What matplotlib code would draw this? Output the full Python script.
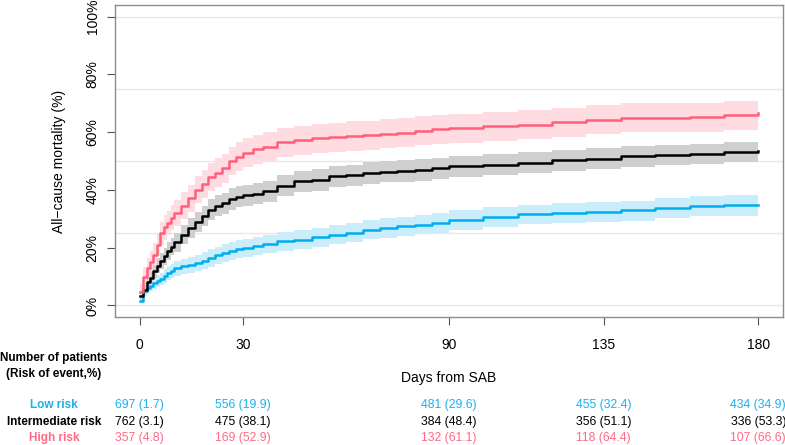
import numpy as np
import matplotlib
matplotlib.use("Agg")
import matplotlib.pyplot as plt
import matplotlib.transforms as mtransforms

plt.rcParams['font.family'] = ['Liberation Sans', 'DejaVu Sans']

# time grid (days) and cumulative mortality (%)
days = [0, 1, 2, 3, 4, 5, 6, 7, 8, 9, 10, 12, 14, 16, 18, 20, 22, 24, 26, 28, 30,
        33, 36, 40, 45, 50, 55, 60, 65, 70, 75, 80, 85, 90,
        100, 110, 120, 130, 140, 150, 160, 170, 180]

low = [1.7, 4.9, 6.0, 6.9, 7.8, 8.5, 9.2, 10.2, 11.3, 12.0, 12.8, 13.6, 14.0, 14.7, 15.5,
       16.4, 17.3, 18.2, 19.0, 19.5, 19.9, 20.6, 21.2, 22.2, 22.8, 23.6, 24.5, 25.1, 26.2,
       26.8, 27.4, 27.9, 28.6, 29.6, 30.6, 31.5, 32.0, 32.4, 32.9, 33.7, 34.3, 34.6, 34.9]
low_lo = [0.7, 3.3, 4.2, 4.9, 5.8, 6.4, 7.0, 7.9, 8.9, 9.6, 10.3, 11.0, 11.3, 11.9, 12.6,
          13.4, 14.3, 15.1, 15.9, 16.3, 16.7, 17.4, 18.0, 19.0, 19.5, 20.3, 21.2, 21.8, 22.9,
          23.5, 24.1, 24.6, 25.2, 26.2, 27.2, 28.1, 28.6, 29.0, 29.4, 30.2, 30.8, 31.1, 31.4]
low_hi = [2.7, 6.5, 7.8, 8.9, 9.8, 10.6, 11.4, 12.5, 13.7, 14.4, 15.3, 16.2, 16.7, 17.5, 18.4,
          19.4, 20.3, 21.3, 22.1, 22.7, 23.1, 23.8, 24.4, 25.4, 26.1, 26.9, 27.8, 28.4, 29.5,
          30.1, 30.7, 31.2, 31.9, 33.0, 34.0, 34.9, 35.4, 35.8, 36.3, 37.1, 37.8, 38.1, 38.4]

mid = [3.1, 5.5, 8.0, 9.5, 11.8, 13.8, 15.5, 17.0, 18.8, 20.4, 21.8, 24.5, 26.8, 29.0, 31.0,
       33.2, 34.5, 35.3, 36.8, 37.7, 38.1, 38.7, 39.5, 41.5, 43.0, 43.4, 44.7, 45.0, 45.8,
       46.3, 46.5, 46.9, 47.5, 48.2, 48.7, 49.4, 50.2, 50.8, 51.6, 52.1, 52.4, 53.0, 53.3]
mid_lo = [1.8, 3.8, 6.0, 7.3, 9.4, 11.2, 12.7, 14.1, 15.8, 17.3, 18.6, 21.2, 23.4, 25.5, 27.5,
          29.6, 30.9, 31.7, 33.1, 34.0, 34.4, 35.0, 35.8, 37.8, 39.3, 39.7, 41.0, 41.3, 42.1,
          42.6, 42.8, 43.2, 43.8, 44.5, 45.0, 45.8, 46.6, 47.2, 48.0, 48.6, 48.9, 49.5, 49.9]
mid_hi = [4.4, 7.2, 10.0, 11.7, 14.2, 16.4, 18.3, 19.9, 21.8, 23.5, 25.0, 27.8, 30.2, 32.5, 34.5,
          36.8, 38.1, 38.9, 40.5, 41.4, 41.8, 42.4, 43.2, 45.2, 46.7, 47.1, 48.4, 48.7, 49.5,
          50.0, 50.2, 50.6, 51.2, 51.9, 52.4, 53.0, 53.8, 54.4, 55.2, 55.6, 55.9, 56.5, 56.7]

high = [4.8, 10.0, 13.0, 15.0, 17.6, 21.0, 25.0, 27.0, 28.5, 30.3, 32.0, 34.5, 37.1, 40.0, 42.0,
        44.5, 46.0, 47.5, 50.0, 51.5, 52.9, 54.0, 55.0, 56.5, 57.2, 57.8, 58.3, 58.7, 59.0,
        59.5, 59.8, 60.5, 61.0, 61.3, 62.0, 62.6, 63.5, 64.3, 65.0, 65.0, 65.2, 65.9, 66.6]
high_lo = [2.5, 7.0, 9.8, 11.7, 14.0, 17.2, 21.0, 22.8, 24.3, 26.0, 27.5, 30.0, 32.5, 35.3, 37.2,
           39.6, 41.0, 42.5, 45.0, 46.5, 47.8, 48.9, 49.9, 51.4, 52.1, 52.7, 53.2, 53.6, 53.9,
           54.4, 54.7, 55.4, 55.9, 56.2, 56.9, 57.5, 58.4, 59.2, 59.9, 59.9, 60.1, 60.8, 61.5]
high_hi = [7.5, 13.3, 16.5, 18.7, 21.5, 25.0, 29.0, 31.3, 32.8, 34.7, 36.5, 39.1, 41.8, 44.8, 46.8,
           49.4, 51.0, 52.5, 55.0, 56.5, 57.9, 59.0, 60.0, 61.5, 62.2, 62.8, 63.3, 63.7, 64.0,
           64.5, 64.8, 65.5, 66.0, 66.3, 67.0, 67.6, 68.5, 69.3, 70.0, 70.0, 70.2, 70.8, 71.4]

# risk table
table_days = [0, 30, 90, 135, 180]
group_names = ["Low risk", "Intermediate risk", "High risk"]
n_low = [697, 556, 481, 455, 434]
pct_low = [1.7, 19.9, 29.6, 32.4, 34.9]
n_mid = [762, 475, 384, 356, 336]
pct_mid = [3.1, 38.1, 48.4, 51.1, 53.3]
n_high = [357, 169, 132, 118, 107]
pct_high = [4.8, 52.9, 61.1, 64.4, 66.6]

line_cols = ["#00AEEF", "black", "#FF5F7A"]
band_cols = ["#C9EDFB", "#CFCFCF", "#FFDCE2"]
text_cols = ["#1BB0EE", "black", "#FF6B86"]

fig = plt.figure(figsize=(7.85, 4.45), dpi=100)
ax = fig.add_axes([115 / 785, 1 - 317 / 445, 668 / 785, 312 / 445])

for g in [25, 50, 75, 100, 0]:
    ax.axhline(g, color="#E8E8E8", lw=1, zorder=0)

series = [(low, low_lo, low_hi), (mid, mid_lo, mid_hi), (high, high_lo, high_hi)]
for (v, lo, hi), lc, bc in zip(series, line_cols, band_cols):
    ax.fill_between(days, lo, hi, step="post", color=bc, lw=0, zorder=1)
for (v, lo, hi), lc in zip(series, line_cols):
    ax.plot(days, v, drawstyle="steps-post", color=lc, lw=1.8, zorder=2)

ax.set_xlim(-7.2, 187.2)
ax.set_ylim(-4, 104)
ax.set_xticks(table_days)
ax.set_yticks([0, 20, 40, 60, 80, 100])
ax.set_yticklabels(["0%", "20%", "40%", "60%", "80%", "100%"], rotation=90, va="center")
ax.tick_params(axis="both", length=6, width=0.8, color="#555555", labelsize=10, labelcolor="black")
ax.tick_params(axis="x", pad=9)
ax.tick_params(axis="y", pad=5)
for s in ax.spines.values():
    s.set_color("#8C8C8C")
    s.set_linewidth(1)

ax.set_ylabel("All\u2212cause mortality (%)", fontsize=10, labelpad=14)

trans = mtransforms.blended_transform_factory(ax.transData, fig.transFigure)
fig.text(90, 1 - 378 / 445, "Days from SAB", transform=trans, ha="center", va="center", fontsize=10)
fig.text(54 / 785, 1 - 366 / 445, "Number of patients\n(Risk of event,%)", ha="center", va="center",
         fontsize=8.5, fontweight="bold", linespacing=1.35)

rows_y = [405, 422, 438]
table = [(n_low, pct_low), (n_mid, pct_mid), (n_high, pct_high)]
for name, (ns, ps), col, yp in zip(group_names, table, text_cols, rows_y):
    fig.text(54 / 785, 1 - yp / 445, name, ha="center", va="center", fontsize=8.5,
             fontweight="bold", color=col)
    for d, n, p in zip(table_days, ns, ps):
        fig.text(d, 1 - yp / 445, f"{n} ({p})", transform=trans, ha="center", va="center",
                 fontsize=8.8, color=col)

fig.savefig("out.png", dpi=100)
